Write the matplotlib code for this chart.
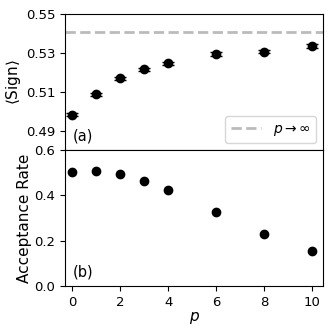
import numpy as np
import matplotlib
matplotlib.use("Agg")
import matplotlib.pyplot as plt

# data
p_vals = [0, 1, 2, 3, 4, 6, 8, 10]
sign_mean = [0.4982, 0.5088, 0.5170, 0.5215, 0.5247, 0.5294, 0.5306, 0.5335]
sign_err = [0.0008, 0.0008, 0.0008, 0.0008, 0.0008, 0.0008, 0.0008, 0.0008]
sign_limit = 0.5409
acc_rate = [0.505, 0.507, 0.495, 0.465, 0.424, 0.327, 0.232, 0.155]

plt.rcParams['font.size'] = 11
plt.rcParams['xtick.labelsize'] = 9.5
plt.rcParams['ytick.labelsize'] = 9.5

fig, (ax1, ax2) = plt.subplots(2, 1, sharex=True, figsize=(3.32, 3.32), dpi=100)
fig.subplots_adjust(left=0.196, right=0.973, top=0.958, bottom=0.138, hspace=0)

ax1.axhline(sign_limit, color='#bbbbbb', ls='--', lw=2, label=r'$p\rightarrow\infty$')
ax1.errorbar(p_vals, sign_mean, yerr=sign_err, fmt='o', color='black', ms=6, capsize=4)
ax1.set_ylim(0.48, 0.55)
ax1.set_yticks([0.49, 0.51, 0.53, 0.55])
ax1.set_ylabel(r'$\langle$Sign$\rangle$', labelpad=2)
ax1.text(0.03, 0.07, '(a)', transform=ax1.transAxes, fontsize=10.5)
ax1.legend(loc='lower right', fontsize=10, handlelength=2.2)
ax1.tick_params(axis='x', bottom=False)

ax2.plot(p_vals, acc_rate, 'o', color='black', ms=6)
ax2.set_ylim(0, 0.6)
ax2.set_yticks([0.0, 0.2, 0.4, 0.6])
ax2.set_xlim(-0.3, 10.45)
ax2.set_xticks([0, 2, 4, 6, 8, 10])
ax2.set_ylabel('Acceptance Rate', labelpad=2)
ax2.set_xlabel(r'$p$', labelpad=1)
ax2.text(0.03, 0.07, '(b)', transform=ax2.transAxes, fontsize=10.5)

fig.savefig('out.png', dpi=100)
